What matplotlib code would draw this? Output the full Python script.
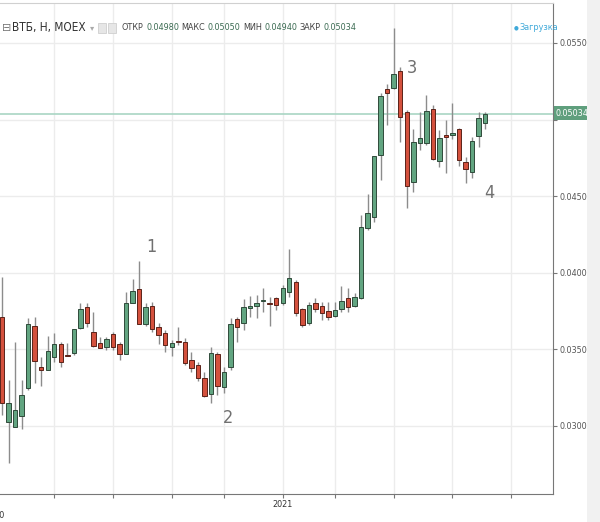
import numpy as np
import matplotlib.pyplot as plt
from matplotlib.patches import Rectangle

# OHLC (candles left to right)
opens = [0.03711, 0.03026, 0.02993, 0.03065, 0.03248, 0.03653, 0.03385, 0.03366, 0.03450, 0.03535,
         0.03463, 0.03476, 0.03640, 0.03777, 0.03614, 0.03542, 0.03516, 0.03600, 0.03535, 0.03470,
         0.03803, 0.03894, 0.03666, 0.03783, 0.03646, 0.03607, 0.03516, 0.03555, 0.03548, 0.03431,
         0.03398, 0.03313, 0.03209, 0.03470, 0.03255, 0.03385, 0.03698, 0.03672, 0.03770, 0.03783,
         0.03816, 0.03803, 0.03835, 0.03803, 0.03875, 0.03940, 0.03764, 0.03672, 0.03803, 0.03783,
         0.03751, 0.03718, 0.03764, 0.03835, 0.03783, 0.03835, 0.04292, 0.04364, 0.04769, 0.05200,
         0.05206, 0.05317, 0.05049, 0.04593, 0.04847, 0.04847, 0.05069, 0.04730, 0.04899, 0.04899,
         0.04939, 0.04723, 0.04658, 0.04893, 0.04980]
highs = [0.03973, 0.03300, 0.03548, 0.03300, 0.03705, 0.03711, 0.03450, 0.03587, 0.03607, 0.03548,
         0.03542, 0.03633, 0.03803, 0.03803, 0.03744, 0.03581, 0.03581, 0.03614, 0.03548, 0.03875,
         0.03959, 0.04077, 0.03803, 0.03809, 0.03672, 0.03627, 0.03561, 0.03646, 0.03574, 0.03483,
         0.03418, 0.03352, 0.03516, 0.03483, 0.03385, 0.03705, 0.03711, 0.03829, 0.03849, 0.03855,
         0.03901, 0.03842, 0.03842, 0.03920, 0.04155, 0.03953, 0.03770, 0.03809, 0.03835, 0.03809,
         0.03809, 0.03809, 0.03914, 0.03901, 0.03868, 0.04377, 0.04514, 0.04762, 0.05174, 0.05232,
         0.05598, 0.05343, 0.05063, 0.04939, 0.05049, 0.05160, 0.05095, 0.04932, 0.04997, 0.05108,
         0.04945, 0.04756, 0.04886, 0.05049, 0.05050]
lows = [0.03072, 0.02759, 0.02993, 0.02980, 0.03235, 0.03281, 0.03261, 0.03366, 0.03418, 0.03385,
        0.03457, 0.03463, 0.03633, 0.03646, 0.03516, 0.03509, 0.03496, 0.03496, 0.03431, 0.03470,
        0.03803, 0.03666, 0.03653, 0.03614, 0.03535, 0.03483, 0.03457, 0.03529, 0.03398, 0.03352,
        0.03294, 0.03189, 0.03150, 0.03202, 0.03215, 0.03366, 0.03548, 0.03627, 0.03711, 0.03705,
        0.03744, 0.03653, 0.03757, 0.03790, 0.03842, 0.03718, 0.03646, 0.03659, 0.03744, 0.03692,
        0.03692, 0.03711, 0.03744, 0.03744, 0.03777, 0.03829, 0.04279, 0.04331, 0.04606, 0.04965,
        0.05200, 0.04854, 0.04423, 0.04527, 0.04801, 0.04834, 0.04736, 0.04691, 0.04651, 0.04873,
        0.04697, 0.04586, 0.04619, 0.04821, 0.04940]
closes = [0.03150, 0.03150, 0.03104, 0.03202, 0.03666, 0.03424, 0.03366, 0.03490, 0.03535, 0.03418,
          0.03457, 0.03633, 0.03764, 0.03672, 0.03522, 0.03509, 0.03568, 0.03516, 0.03470, 0.03803,
          0.03881, 0.03666, 0.03777, 0.03633, 0.03594, 0.03529, 0.03542, 0.03548, 0.03411, 0.03379,
          0.03313, 0.03196, 0.03476, 0.03261, 0.03352, 0.03666, 0.03646, 0.03777, 0.03783, 0.03803,
          0.03822, 0.03796, 0.03790, 0.03901, 0.03966, 0.03738, 0.03659, 0.03790, 0.03764, 0.03738,
          0.03711, 0.03757, 0.03816, 0.03777, 0.03842, 0.04299, 0.04390, 0.04762, 0.05154, 0.05174,
          0.05298, 0.05017, 0.04567, 0.04854, 0.04880, 0.05056, 0.04743, 0.04880, 0.04886, 0.04912,
          0.04736, 0.04677, 0.04860, 0.05010, 0.05034]

last_price = 0.05034
y_ticks = [0.030, 0.035, 0.040, 0.045, 0.050, 0.055]
y_labels = ['0.03000', '0.03500', '0.04000', '0.04500', '', '0.05500']
grid_pos = [8, 17, 26, 34, 43, 51, 60, 69, 78]
grid_labels = ['', '', '', '', '2021', '', '', '', '']
marks = ['1', '2', '3', '4']
mark_x = [22.9, 34.6, 62.8, 74.6]
mark_y = [0.04168, 0.03052, 0.05337, 0.04521]
header = ['ОТКР', '0.04980', 'МАКС', '0.05050', 'МИН', '0.04940', 'ЗАКР', '0.05034']

W, H = 600, 522
fnt = dict(family='DejaVu Sans', stretch='condensed')
green, red = '#62a581', '#d4513d'
green_e, red_e = '#2f4a3a', '#5a2219'

fig = plt.figure(figsize=(W / 100, H / 100), dpi=100)
ax = fig.add_axes([0, 28 / H, 553 / W, 491 / H])

x = np.arange(len(opens))
o = np.array(opens); c = np.array(closes)
up = c >= o

# wicks then bodies
ax.vlines(x, lows, highs, color='#8c8c8c', lw=1, zorder=2)
body_h = np.maximum(np.abs(c - o), 0.00004)
ax.bar(x, body_h, bottom=np.minimum(o, c), width=0.68,
       color=np.where(up, green, red), edgecolor=np.where(up, green_e, red_e),
       linewidth=0.7, zorder=3)

# current price line
ax.axhline(last_price, color='#a9d6c4', lw=1.2, zorder=1)

ax.set_xlim(-0.31, 84.4)
ax.set_ylim(0.02556, 0.05761)
ax.set_yticks(y_ticks)
ax.set_yticklabels(y_labels, fontsize=6.5, color='#555555', **fnt)
ax.yaxis.tick_right()
ax.set_xticks(grid_pos)
ax.set_xticklabels(grid_labels, fontsize=6.5, color='#333333', **fnt)
ax.tick_params(axis='both', length=3, width=0.8, color='#777777', pad=1.5)
ax.grid(True, color='#ececec', lw=1, zorder=0)
ax.set_axisbelow(True)
ax.spines['left'].set_visible(False)
ax.spines['top'].set_color('#d0d0d0')
ax.spines['right'].set_color('#777777')
ax.spines['bottom'].set_color('#777777')

for m, mx, my in zip(marks, mark_x, mark_y):
    ax.text(mx, my, m, fontsize=13, color='#707070', ha='center', va='center', zorder=4, **fnt)

ax.text(-1.1, -0.035, '2020', transform=ax.get_xaxis_transform(), fontsize=6.5,
        color='#333333', ha='center', va='top', clip_on=False, **fnt)


def px(xp, yp):
    return xp / W, 1 - yp / H


rend = fig.canvas.get_renderer()


def flow(xp, txt, gap, **kw):
    # put a text at pixel xp and return where the next one starts
    t = fig.text(*px(xp, 28), txt, va='center', **kw)
    return t.get_window_extent(rend).x1 + gap


# header legend
fig.text(*px(2, 28), '⊟', fontsize=8, color='#777777', va='center')
nx = flow(12, 'ВТБ, Н, МОЕХ', 4, fontsize=8.5, color='#333333', **fnt)
nx = flow(nx, '▾', 4, fontsize=6, color='#aaaaaa')
for k in range(2):
    fig.add_artist(Rectangle(px(nx, 33), 8 / W, 10 / H, transform=fig.transFigure,
                             facecolor='#e6e6e6', edgecolor='#cfcfcf', lw=0.6))
    nx += 10
nx += 4
for k, t in enumerate(header):
    col = '#444444' if k % 2 == 0 else '#3b6b52'
    nx = flow(nx, t, 2.5, fontsize=6.5, color=col, **fnt)

fig.text(*px(514, 28), '●', fontsize=4, color='#3fa9d9', va='center')
fig.text(*px(519, 28), 'Загрузка', fontsize=6.5, color='#3fa9d9', va='center', **fnt)

# price label on the axis
fig.text(*px(556, 113), '0.05034', fontsize=6.5, color='white', ha='left', va='center',
         bbox=dict(boxstyle='square,pad=0.25', facecolor='#5f9f7d', edgecolor='none'), **fnt)

# grey strip at right edge
fig.add_artist(Rectangle((587 / W, 0), 13 / W, 1, transform=fig.transFigure,
                         facecolor='#f1f1f1', edgecolor='none', zorder=10))

fig.savefig('out.png', dpi=100)
